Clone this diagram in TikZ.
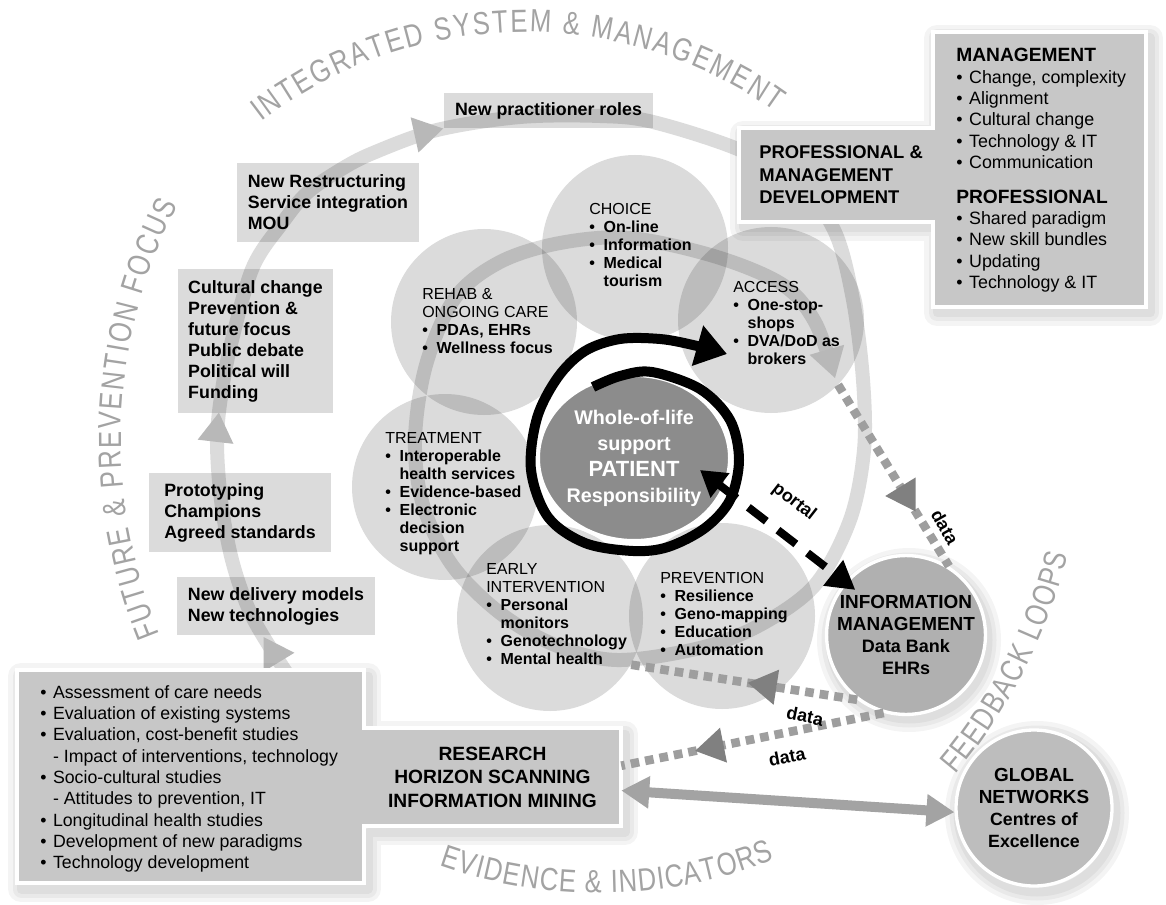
\documentclass[tikz,border=0pt]{standalone}
\usepackage{fontspec}
\setmainfont{Liberation Sans}
\newfontfamily\arcfamily[FakeStretch=0.8]{Liberation Sans}
\usetikzlibrary{arrows.meta,decorations.markings,decorations.text,shapes.geometric}

\definecolor{boxgray}{gray}{0.86}
\definecolor{panelgray}{gray}{0.78}
\definecolor{infogray}{gray}{0.69}
\definecolor{globalgray}{gray}{0.74}
\definecolor{patientgray}{gray}{0.55}
\definecolor{labelgray}{gray}{0.64}
\definecolor{dotgray}{gray}{0.62}
\definecolor{headgray}{gray}{0.50}
\definecolor{linkgray}{gray}{0.64}
\definecolor{spiralhead}{gray}{0.72}

\newcommand\pbul{\makebox[0.9em][l]{\textbf{\textbullet}}}
\newcommand\pind{\hspace*{0.9em}}
\newcommand\lbul{\makebox[0.72em][l]{\textbullet}}
\newcommand\lind{\hspace*{0.72em}}
\newcommand\curvefont{\arcfamily\fontsize{24}{24}\selectfont}

\begin{document}
\begin{tikzpicture}[x=0.75pt,y=-0.75pt,
  lightbox/.style={fill=boxgray,inner sep=0pt,align=left,font=\fontsize{13.35}{15.75}\selectfont\bfseries},
  petal/.style={circle,fill=black,fill opacity=0.14,minimum size=139.5pt,inner sep=0pt},
  petaltext/.style={anchor=north west,inner sep=0pt,align=left,font=\fontsize{12}{13.5}\selectfont},
  panel/.style={fill=panelgray,draw=white,line width=2.5pt,line join=miter},
  halo/.style={draw=black,draw opacity=0.045,line width=#1,line join=round},
  hub/.style={circle,draw=white,line width=2.5pt,minimum size=117pt,inner sep=0pt,align=center,font=\fontsize{14.2}{16.5}\selectfont\bfseries},
  patientnode/.style={ellipse,fill=patientgray,draw=white,line width=3pt,minimum width=144pt,minimum height=124.5pt,inner sep=0pt,text=white,align=center,font=\fontsize{14.8}{19.5}\selectfont\bfseries},
  spiralhead/.tip={Triangle[length=22pt,width=27pt,line width=0pt,fill=spiralhead]},
  cyclepath/.style={draw=black,draw opacity=0.14,line width=10.5pt,-spiralhead,
    postaction={decorate,decoration={markings,
      mark=at position 0.056 with {\arrow{spiralhead}},
      mark=at position 0.141 with {\arrow{spiralhead}},
      mark=at position 0.285 with {\arrow{spiralhead}}}}},
  patientring/.style={draw=black,line width=7.5pt,-{Triangle[length=23pt,width=30pt]}},
  dataflow/.style={draw=dotgray,line width=6.5pt,dash pattern=on 6.5pt off 4.5pt,
    postaction={decorate,decoration={markings,
      mark=at position #1 with {\arrow{Triangle[length=22pt,width=25pt,color=headgray]}}}}},
  portalline/.style={draw=black,line width=6pt,dash pattern=on 17pt off 11pt,
    {Triangle[length=19pt,width=22pt]}-{Triangle[length=21pt,width=23pt]},shorten >=-10pt},
  exchange/.style={draw=linkgray,line width=7.5pt,{Triangle[length=21pt,width=23pt]}-{Triangle[length=21pt,width=23pt]}},
  flowlabel/.style={inner sep=1pt,font=\fontsize{13.5}{13.5}\selectfont\bfseries},
  arclabel/.style={decorate,decoration={text along path,text align={fit to path},text color=labelgray,text={|\curvefont|#1}}},
]
\fill[white] (0,0) rectangle (1166,905);
\useasboundingbox (0,0) rectangle (1166,905);

% steps on the left
\node[lightbox,minimum width=156.75pt,minimum height=26.25pt] (roles) at (548.5,110.5) {New practitioner roles};
\node[lightbox,minimum width=136.5pt,minimum height=59.25pt] (restructure) at (328,202.5) {New Restructuring\\ Service integration\\ MOU};
\node[lightbox,minimum width=116.25pt,minimum height=108pt] (culture) at (255.5,341) {Cultural change\\ Prevention \&\\ future focus\\ Public debate\\ Political will\\ Funding};
\node[lightbox,minimum width=136.5pt,minimum height=59.25pt] (prototype) at (240,512.5) {Prototyping\\ Champions\\ Agreed standards};
\node[lightbox,minimum width=148.5pt,minimum height=43.5pt] (delivery) at (276,606) {New delivery models\\ New technologies};

% petals
\node[petal] (choice) at (635,248) {};
\node[petal] (rehab) at (484,322) {};
\node[petal] (access) at (771,320) {};
\node[petal] (treatment) at (445,487) {};
\node[petal] (early) at (550,618) {};
\node[petal] (prevention) at (722,616) {};

% big spiral
\draw[cyclepath] plot[smooth,tension=0.55] coordinates {(372,742) (330,712) (300,690) (275,655) (250,612) (232,560) (221,500) (217,440) (222,390) (232,340) (253,267) (283,222) (307,193) (340,170) (373,153) (437,130) (520,117) (600,116) (653,122) (740,150) (800,185) (835,232) (853,300) (863,380) (864,450) (850,520) (815,585) (760,625) (700,648) (617,660) (555,645) (500,613) (452,565) (423,505) (415,440) (426,365) (455,298) (500,262) (560,243) (630,238) (717,257) (783,285) (815,322) (835,378)};

\node[petaltext] (choicetext) at (589,203) {CHOICE\\ \pbul\textbf{On-line}\\ \pbul\textbf{Information}\\ \pbul\textbf{Medical}\\ \pind\textbf{tourism}};
\node[petaltext] (rehabtext) at (422,288) {REHAB \&\\ ONGOING CARE\\ \pbul\textbf{PDAs, EHRs}\\ \pbul\textbf{Wellness focus}};
\node[petaltext] (accesstext) at (733,281) {ACCESS\\ \pbul\textbf{One-stop-}\\ \pind\textbf{shops}\\ \pbul\textbf{DVA/DoD as}\\ \pind\textbf{brokers}};
\node[petaltext] (treatmenttext) at (385,432) {TREATMENT\\ \pbul\textbf{Interoperable}\\ \pind\textbf{health services}\\ \pbul\textbf{Evidence-based}\\ \pbul\textbf{Electronic}\\ \pind\textbf{decision}\\ \pind\textbf{support}};
\node[petaltext] (earlytext) at (486,563) {EARLY\\ INTERVENTION\\ \pbul\textbf{Personal}\\ \pind\textbf{monitors}\\ \pbul\textbf{Genotechnology}\\ \pbul\textbf{Mental health}};
\node[petaltext] (preventiontext) at (660,572) {PREVENTION\\ \pbul\textbf{Resilience}\\ \pbul\textbf{Geno-mapping}\\ \pbul\textbf{Education}\\ \pbul\textbf{Automation}};

% patient
\node[patientnode] (patient) at (634,458) {Whole-of-life\\ support\\ {\fontsize{16.5}{19.5}\selectfont PATIENT}\\ Responsibility};
\draw[patientring] plot[smooth,tension=0.55] coordinates {(593,387) (620,376) (652,372) (700,389) (730,420) (739,460) (730,500) (705,528) (668,547) (633,551) (585,543) (548,517) (531,470) (537,418) (558,377) (585,351) (620,339) (660,339) (693,345) (727,354)};
\coordinate (portaltip) at (700,470);

% hubs
\foreach \w in {19.5pt,12.75pt,6.75pt}
  \draw[halo=\w,shift={(3,5)}] (906,635) circle[radius=79];
\node[hub,fill=infogray] (info) at (906,635) {INFORMATION\\ MANAGEMENT\\ {\fontsize{13.5}{16.5}\selectfont Data Bank}\\ {\fontsize{13.5}{16.5}\selectfont EHRs}};
\foreach \w in {19.5pt,12.75pt,6.75pt}
  \draw[halo=\w,shift={(3,5)}] (1034,808) circle[radius=79];
\node[hub,fill=globalgray] (global) at (1034,808) {GLOBAL\\ NETWORKS\\ {\fontsize{13.3}{16.5}\selectfont Centres of}\\ {\fontsize{13.3}{16.5}\selectfont Excellence}};

% research panel
\foreach \w in {19.5pt,12.75pt,6.75pt}
  \draw[halo=\w,shift={(4,6)}] (17,670) -- (364,670) -- (364,728) -- (621,728) -- (621,826) -- (364,826) -- (364,883) -- (17,883) -- cycle;
\draw[panel] (17,670) -- (364,670) -- (364,728) -- (621,728) -- (621,826) -- (364,826) -- (364,883) -- (17,883) -- cycle;
\node[minimum width=192.75pt,minimum height=73.5pt,inner sep=0pt,align=center,font=\fontsize{14.4}{17.6}\selectfont\bfseries] (research) at (492.5,777) {RESEARCH\\ HORIZON SCANNING\\ INFORMATION MINING};
\node[anchor=north west,inner sep=0pt,align=left,font=\fontsize{13.3}{16}\selectfont] (researchlist) at (40,685) {\lbul Assessment of care needs\\ \lbul Evaluation of existing systems\\ \lbul Evaluation, cost-benefit studies\\ \lind - Impact of interventions, technology\\ \lbul Socio-cultural studies\\ \lind - Attitudes to prevention, IT\\ \lbul Longitudinal health studies\\ \lbul Development of new paradigms\\ \lbul Technology development};

% management panel
\foreach \w in {19.5pt,12.75pt,6.75pt}
  \draw[halo=\w,shift={(4,6)}] (739,128) -- (933,128) -- (933,32) -- (1146,32) -- (1146,307) -- (933,307) -- (933,222) -- (739,222) -- cycle;
\draw[panel] (739,128) -- (933,128) -- (933,32) -- (1146,32) -- (1146,307) -- (933,307) -- (933,222) -- (739,222) -- cycle;
\node[anchor=west,inner sep=0pt,align=left,font=\fontsize{13.8}{16.9}\selectfont\bfseries] (profdev) at (759,175) {PROFESSIONAL \&\\ MANAGEMENT\\ DEVELOPMENT};
\node[anchor=north west,inner sep=0pt,align=left,font=\fontsize{13.4}{16}\selectfont] (mgmtlist) at (956,48) {{\fontsize{14.4}{16}\selectfont\bfseries MANAGEMENT}\\ \lbul Change, complexity\\ \lbul Alignment\\ \lbul Cultural change\\ \lbul Technology \& IT\\ \lbul Communication\\[10pt] {\fontsize{14.4}{16}\selectfont\bfseries PROFESSIONAL}\\ \lbul Shared paradigm\\ \lbul New skill bundles\\ \lbul Updating\\ \lbul Technology \& IT};

% flows
\draw[dataflow=0.70] (access.-44) -- (info.58);
\draw[dataflow=0.485] (info.233) -- (early.-30);
\draw[dataflow=0.72] (info.254) -- (research.5);
\draw[portalline] (portaltip) -- (info.139);
\draw[exchange] (research.-6) -- (global.183);
\node[flowlabel,rotate=-38] (portallabel) at (794,502) {portal};
\node[flowlabel,rotate=-60.5] (datalabela) at (945,527) {data};
\node[flowlabel,rotate=-11.5] (datalabelb) at (805,716) {data};
\node[flowlabel,rotate=11] (datalabelc) at (787,757) {data};

% curved titles
\path[arclabel={INTEGRATED SYSTEM {\&} MANAGEMENT}] plot[domain=-127.6:-54.6,samples=60] ({525+432*cos(\x)},{464+432*sin(\x)});
\path[arclabel={FUTURE {\&} PREVENTION FOCUS}] plot[domain=157.5:207.2,samples=60] ({633+512*cos(\x)},{439+512*sin(\x)});
\path[arclabel={EVIDENCE {\&} INDICATORS}] plot[domain=109.3:68.6,samples=60] ({599+482*cos(\x)},{411+482*sin(\x)});
\path[arclabel={FEEDBACK LOOPS}] plot[domain=40.4:14,samples=60] ({543+541*cos(\x)},{424+541*sin(\x)});
\end{tikzpicture}
\end{document}
